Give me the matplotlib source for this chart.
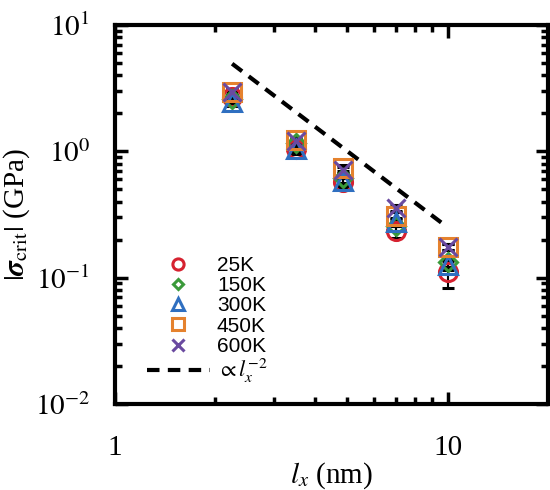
import numpy as np
import matplotlib
matplotlib.use("Agg")
import matplotlib.pyplot as plt
from matplotlib.ticker import LogLocator, FuncFormatter, NullFormatter

plt.rcParams['mathtext.fontset'] = 'stix'
plt.rcParams['font.family'] = ['Liberation Serif', 'DejaVu Serif']

# data
lx = [2.25, 3.5, 4.85, 7.0, 10.0]
labels = ['25K', '150K', '300K', '450K', '600K']
sig_25 = [2.70, 1.04, 0.57, 0.232, 0.111]
sig_150 = [2.60, 1.17, 0.61, 0.255, 0.133]
sig_300 = [2.45, 1.05, 0.58, 0.275, 0.126]
sig_450 = [2.95, 1.23, 0.74, 0.310, 0.175]
sig_600 = [2.95, 1.20, 0.71, 0.356, 0.175]
err_25 = [0.25, 0.08, 0.05, 0.025, 0.028]
err_150 = [0.20, 0.07, 0.05, 0.020, 0.012]
err_300 = [0.15, 0.06, 0.04, 0.020, 0.010]
err_450 = [0.15, 0.06, 0.04, 0.020, 0.010]
err_600 = [0.15, 0.06, 0.04, 0.020, 0.010]
fit_x = [2.25, 10.0]
fit_c = 25.0  # prefactor of lx^-2 guide line
fit_label = r'$\propto l_x^{-2}$'

series = [sig_25, sig_150, sig_300, sig_450, sig_600]
errs = [err_25, err_150, err_300, err_450, err_600]
colors = ['#d62230', '#3a9a3a', '#2f6fc0', '#e5822e', '#6a4aa0']
markers = ['o', 'D', '^', 's', 'x']
sizes = [13, 9, 13, 13, 13]

fig = plt.figure(figsize=(5.5, 4.9), dpi=100)
ax = fig.add_axes([0.209, 0.1755, 0.787, 0.7735])

handles = []
for ys, e, c, m, s, lab in zip(series, errs, colors, markers, sizes, labels):
    cont = ax.errorbar(lx, ys, yerr=e, fmt=m, color=c, mfc='none', mec=c, mew=2.2,
                       ms=s, ecolor='black', elinewidth=1.5, capsize=4, capthick=1.5,
                       zorder=3)
    handles.append(cont.lines[0])

fx = np.array(fit_x)
fit_line, = ax.plot(fx, fit_c * fx ** -2.0, '--', color='black', lw=3, dashes=(3, 2),
                    zorder=2)
handles.append(fit_line)

ax.set_xscale('log')
ax.set_yscale('log')
ax.set_xlim(1, 20)
ax.set_ylim(0.01, 10)

def fmt_y(v, pos):
    return r'$10^{%d}$' % int(round(np.log10(v)))

ax.yaxis.set_major_locator(LogLocator(base=10, numticks=10))
ax.yaxis.set_major_formatter(FuncFormatter(fmt_y))
ax.yaxis.set_minor_locator(LogLocator(base=10, subs=np.arange(2, 10), numticks=10))
ax.yaxis.set_minor_formatter(NullFormatter())
ax.xaxis.set_major_formatter(FuncFormatter(lambda v, p: '%g' % v))
ax.xaxis.set_minor_formatter(NullFormatter())

ax.tick_params(which='both', direction='in', top=True, right=True, labelsize=21,
               width=2.5)
ax.tick_params(which='major', length=9)
ax.tick_params(which='minor', length=5)
ax.tick_params(axis='y', which='major', pad=18)
ax.tick_params(axis='x', which='major', pad=22)
for sp in ax.spines.values():
    sp.set_linewidth(3)

ax.set_ylabel(r'$|\boldsymbol{\sigma}_{\rm crit}|$ (GPa)', fontsize=21, labelpad=2)
ax.set_xlabel(r'$l_x$ (nm)', fontsize=21, labelpad=0)

leg = ax.legend(handles, labels + [fit_label], loc='lower left',
                bbox_to_anchor=(0.055, 0.027),
                frameon=False, prop={'family': 'Liberation Sans', 'size': 15},
                markerscale=0.62, handlelength=3.0, handletextpad=0.35,
                labelspacing=0.06, borderaxespad=0)
# math label in serif like the reference
leg.get_texts()[-1].set_family('Liberation Serif')
leg.get_texts()[-1].set_fontsize(16)

fig.savefig('out.png', dpi=100)
